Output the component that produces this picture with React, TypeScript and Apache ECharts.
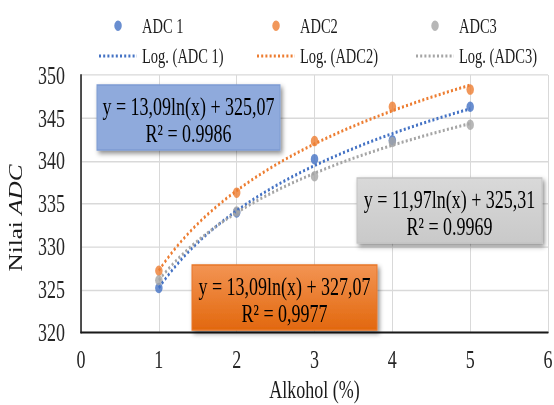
import React, { useEffect, useRef } from "react";
import * as echarts from "echarts";

// ---- data ----
const xValues = [1, 2, 3, 4, 5];
const adc1 = [325.2, 334.0, 340.2, 342.4, 346.3];
const adc2 = [327.2, 336.3, 342.3, 346.3, 348.3];
const adc3 = [326.1, 334.1, 338.2, 342.2, 344.2];

const seriesNames = ["ADC 1", "ADC2", "ADC3"];
const trendNames = ["Log. (ADC 1)", "Log. (ADC2)", "Log. (ADC3)"];
const equationLabels = [
  "y = 13,09ln(x) + 325,07",
  "y = 13,09ln(x) + 327,07",
  "y = 11,97ln(x) + 325,31",
];
const r2Labels = ["R² = 0.9986", "R² = 0,9977", "R² = 0.9969"];
const xAxisTitle = "Alkohol (%)";

const xMin = 0;
const xMax = 6;
const xStep = 1;
const yMin = 320;
const yMax = 350;
const yStep = 5;

const colors = ["#4472C4", "#ED7D31", "#A5A5A5"];
const FONT = "'Liberation Serif', 'Times New Roman', serif";

// The reference picture is stretched vertically; draw in an unstretched frame and scale it.
const W = 554;
const H = 405;
const S = 1.4;
const v = (y: number) => y / S;

// logarithmic least-squares fit (Excel "Log." trendline) of the data
function logFit(xs: number[], ys: number[]) {
  const L = xs.map((x) => Math.log(x));
  const n = xs.length;
  const mL = L.reduce((a, b) => a + b, 0) / n;
  const mY = ys.reduce((a, b) => a + b, 0) / n;
  let sxy = 0;
  let sxx = 0;
  for (let i = 0; i < n; i++) {
    sxy += (L[i] - mL) * (ys[i] - mY);
    sxx += (L[i] - mL) * (L[i] - mL);
  }
  const a = sxy / sxx;
  const b = mY - a * mL;
  const pts: number[][] = [];
  const x0 = Math.min(...xs);
  const x1 = Math.max(...xs);
  const steps = 60;
  for (let k = 0; k <= steps; k++) {
    const x = x0 + ((x1 - x0) * k) / steps;
    pts.push([x, a * Math.log(x) + b]);
  }
  return pts;
}

const dataSets = [adc1, adc2, adc3];

type BoxSpec = { x: number; y: number; w: number; h: number; fill: any; stroke: string };
const boxSpecs: BoxSpec[] = [
  { x: 97, y: 85, w: 183, h: 65, fill: "#8FAADC", stroke: "#7E9BD2" },
  {
    x: 192,
    y: 265,
    w: 185,
    h: 65,
    fill: {
      type: "linear",
      x: 0,
      y: 0,
      x2: 0,
      y2: 1,
      colorStops: [
        { offset: 0, color: "#F39453" },
        { offset: 1, color: "#E2680E" },
      ],
    },
    stroke: "#E8772A",
  },
  {
    x: 357,
    y: 178,
    w: 185,
    h: 65,
    fill: {
      type: "linear",
      x: 0,
      y: 0,
      x2: 0,
      y2: 1,
      colorStops: [
        { offset: 0, color: "#D9D9D9" },
        { offset: 1, color: "#C9C9C9" },
      ],
    },
    stroke: "#C4C4C4",
  },
];

export default function App() {
  const ref = useRef<HTMLDivElement>(null);

  useEffect(() => {
    if (!ref.current) return;
    const chart = echarts.init(ref.current, undefined, { renderer: "svg" });

    const scatterSeries = dataSets.map((ys, i) => ({
      name: seriesNames[i],
      type: "scatter",
      data: xValues.map((x, j) => [x, ys[j]]),
      symbol: "circle",
      symbolSize: 7.5,
      itemStyle: { color: colors[i] },
      z: 3,
    }));

    const trendSeries = dataSets.map((ys, i) => ({
      name: trendNames[i],
      type: "line",
      data: logFit(xValues, ys),
      symbol: "none",
      showSymbol: false,
      smooth: false,
      lineStyle: { color: colors[i], width: 2.2, type: [2, 2.2] },
      itemStyle: { color: colors[i] },
      z: 4,
    }));

    const legendLefts = [98, 256, 415];
    const legends = [0, 1, 2].map((i) => ({
      data: [
        { name: seriesNames[i], icon: "circle" },
        { name: trendNames[i], itemStyle: { color: "rgba(0,0,0,0)", opacity: 0, borderWidth: 0 } },
      ],
      orient: "vertical",
      left: legendLefts[i],
      top: v(25.7) - 7.5,
      itemWidth: 38,
      itemHeight: 7.5,
      itemGap: v(56 - 25.7) - 15,
      padding: 0,
      textStyle: { fontSize: 14.5, fontFamily: FONT, color: "#1a1a1a", lineHeight: 15 },
    }));

    const boxes = boxSpecs.map((b, i) => ({
      type: "group",
      x: b.x,
      y: v(b.y),
      z: 100,
      children: [
        {
          type: "rect",
          z: 100,
          shape: { x: 0, y: 0, width: b.w, height: v(b.h) },
          style: {
            fill: b.fill,
            stroke: b.stroke,
            lineWidth: 1,
            shadowBlur: 4,
            shadowOffsetX: 2,
            shadowOffsetY: 2,
            shadowColor: "rgba(0,0,0,0.45)",
          },
        },
        {
          type: "text",
          z: 101,
          style: {
            text: equationLabels[i] + "\n" + r2Labels[i],
            x: b.w / 2,
            y: v(34.5),
            align: "center",
            verticalAlign: "middle",
            fontSize: 18,
            fontFamily: FONT,
            lineHeight: v(27),
            fill: "#000",
          },
        },
      ],
    }));

    const gridLeft = 81;
    const gridRight = 6;
    const gridTop = v(75);
    const axisY = v(333);

    chart.setOption({
      animation: false,
      backgroundColor: "#fff",
      color: colors,
      grid: {
        left: gridLeft,
        right: gridRight,
        top: gridTop,
        bottom: v(H) - axisY,
        containLabel: false,
        outerBoundsMode: "none",
      },
      legend: legends,
      xAxis: {
        type: "value",
        min: xMin,
        max: xMax,
        interval: xStep,
        axisLine: { show: true, lineStyle: { color: "#1a1a1a", width: 1.3 } },
        axisTick: { show: false },
        axisLabel: {
          fontSize: 18,
          fontFamily: FONT,
          color: "#262626",
          lineHeight: 16,
          margin: v(360) - axisY - 8,
        },
        splitLine: { show: true, lineStyle: { color: "#d9d9d9", width: 1 } },
      },
      yAxis: {
        type: "value",
        min: yMin,
        max: yMax,
        interval: yStep,
        axisLine: { show: true, lineStyle: { color: "#1a1a1a", width: 1.5 } },
        axisTick: { show: false },
        axisLabel: { fontSize: 18, fontFamily: FONT, color: "#262626", margin: 16 },
        splitLine: { show: true, lineStyle: { color: "#d9d9d9", width: 1 } },
      },
      graphic: [
        {
          type: "text",
          x: 16,
          y: v(218),
          rotation: Math.PI / 2,
          z: 100,
          style: {
            text: "{a|Nilai }{b|ADC}",
            align: "center",
            verticalAlign: "middle",
            fill: "#1a1a1a",
            rich: {
              a: { fontSize: 18, fontFamily: FONT, fill: "#1a1a1a" },
              b: { fontSize: 18, fontFamily: FONT, fontStyle: "italic", fill: "#1a1a1a" },
            },
          },
        },
        {
          type: "text",
          x: (gridLeft + (W - gridRight)) / 2,
          y: v(389),
          z: 100,
          style: {
            text: xAxisTitle,
            align: "center",
            verticalAlign: "middle",
            fontSize: 18,
            lineHeight: 16,
            fontFamily: FONT,
            fill: "#1a1a1a",
          },
        },
        ...boxes,
      ],
      series: [...scatterSeries, ...trendSeries],
    } as any);

    return () => chart.dispose();
  }, []);

  return (
    <div
      style={{
        position: "fixed",
        left: 0,
        top: 0,
        width: W,
        height: H,
        overflow: "hidden",
        background: "#fff",
      }}
    >
      <div
        ref={ref}
        style={{
          width: W,
          height: v(H),
          transform: `scaleY(${S})`,
          transformOrigin: "0 0",
        }}
      />
    </div>
  );
}
